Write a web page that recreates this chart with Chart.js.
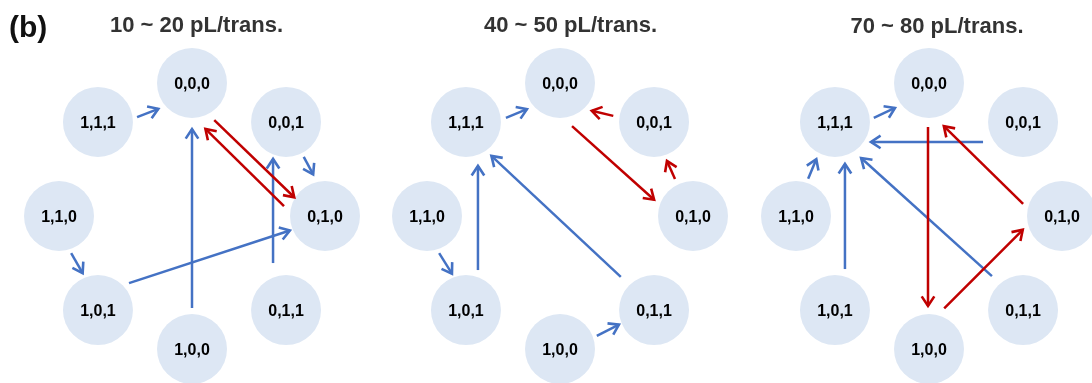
<!DOCTYPE html>
<html>
<head>
<meta charset="utf-8">
<title>State transitions</title>
<script src="https://cdn.jsdelivr.net/npm/chart.js@4.4.1/dist/chart.umd.min.js"></script>
<style>
  html, body { margin: 0; padding: 0; background: #ffffff; }
  #wrap { width: 1092px; height: 383px; }
</style>
</head>
<body>
<div id="wrap"><canvas id="c" width="1092" height="383"></canvas></div>
<script>
// ---- data ----
// states around the ring, clockwise from the top
const STATES = ['0,0,0', '0,0,1', '0,1,0', '0,1,1', '1,0,0', '1,0,1', '1,1,0', '1,1,1'];
const PANEL_TITLES = ['10 ~ 20 pL/trans.', '40 ~ 50 pL/trans.', '70 ~ 80 pL/trans.'];
const FIGURE_TAG = '(b)';

// transitions [from, to] for each dose range
const panel1Blue = [['1,1,1', '0,0,0'], ['0,0,1', '0,1,0'], ['1,1,0', '1,0,1'], ['1,0,1', '0,1,0'], ['1,0,0', '0,0,0'], ['0,1,1', '0,0,1']];
const panel1Red  = [['0,0,0', '0,1,0'], ['0,1,0', '0,0,0']];
const panel2Blue = [['1,1,1', '0,0,0'], ['1,1,0', '1,0,1'], ['1,0,1', '1,1,1'], ['0,1,1', '1,1,1'], ['1,0,0', '0,1,1']];
const panel2Red  = [['0,0,1', '0,0,0'], ['0,0,0', '0,1,0'], ['0,1,0', '0,0,1']];
const panel3Blue = [['1,1,1', '0,0,0'], ['0,0,1', '1,1,1'], ['1,1,0', '1,1,1'], ['1,0,1', '1,1,1'], ['0,1,1', '1,1,1']];
const panel3Red  = [['0,0,0', '1,0,0'], ['1,0,0', '0,1,0'], ['0,1,0', '0,0,0']];

const BLUE_EDGES = [panel1Blue, panel2Blue, panel3Blue];
const RED_EDGES = [panel1Red, panel2Red, panel3Red];

// ---- layout ----
const W = 1092, H = 383;
const PANEL_CX = [192, 560, 929];
const RING_CY = 216;
const RING_R = 133;
const NODE_R = 35;
const TITLE_DX = [4.5, 10.5, 8];
const TITLE_BASE = [32, 32, 33];

// per-arrow geometry: [shift at start, shift at end, gap at start, gap at end]
// shifts are perpendicular to the centre line, gaps measured from node centres
const ARROW_GEOM = {
  '0:1,1,1>0,0,0': [10.5, 11, 38, 41],
  '0:0,0,1>0,1,0': [-3, -5, 39, 43],
  '0:1,1,0>1,0,1': [3, 0, 39, 40],
  '0:1,0,1>0,1,0': [-13, 0, 39, 38],
  '0:1,0,0>0,0,0': [0, 0, 41, 46],
  '0:0,1,1>0,0,1': [-13, -13, 47, 37],
  '0:0,0,0>0,1,0': [10.5, 8.5, 42, 35],
  '0:0,1,0>0,0,0': [-22, -23, 36, 42],

  '1:1,1,1>0,0,0': [11.5, 11.5, 38.5, 40.5],
  '1:0,0,1>0,0,0': [-10, -13.5, 40, 40],
  '1:0,0,0>0,1,0': [22, 16, 39, 39],
  '1:0,1,0>0,0,1': [-2.5, -3, 41, 41],
  '1:1,1,0>1,0,1': [3, -1, 39, 39],
  '1:1,0,1>1,1,1': [12, 12, 40, 44],
  '1:0,1,1>1,1,1': [0, -6, 47, 42],
  '1:1,0,0>0,1,1': [2, 0, 39, 38],

  '2:1,1,1>0,0,0': [11, 10, 37.5, 41],
  '2:0,0,1>1,1,1': [-20, -20, 40, 36],
  '2:1,1,0>1,1,1': [-3, -3, 39, 41.5],
  '2:1,0,1>1,1,1': [10, 10, 41, 42],
  '2:0,1,1>1,1,1': [2, -7, 46, 44],
  '2:0,0,0>1,0,0': [1, 1, 44, 43],
  '2:1,0,0>0,1,0': [-18, -18, 39.5, 37.5],
  '2:0,1,0>0,0,0': [-19, -20, 36, 41]
};

const NODE_FILL = '#dde7f4';
const BLUE = '#4472c4';
const RED = '#c00000';
const FONT = '"Liberation Sans", Arial, Helvetica, sans-serif';

function nodePos(p, state) {
  const k = STATES.indexOf(state);
  const a = k * Math.PI / 4;
  return { x: PANEL_CX[p] + RING_R * Math.sin(a), y: RING_CY - RING_R * Math.cos(a) };
}

function arrowPoints(p, from, to) {
  const A = nodePos(p, from), B = nodePos(p, to);
  const dx = B.x - A.x, dy = B.y - A.y, L = Math.hypot(dx, dy);
  const ux = dx / L, uy = dy / L, nx = -uy, ny = ux;
  const g = ARROW_GEOM[p + ':' + from + '>' + to] || [0, 0, 40, 40];
  return [
    { x: A.x + ux * g[2] + nx * g[0], y: A.y + uy * g[2] + ny * g[0] },
    { x: B.x - ux * g[3] + nx * g[1], y: B.y - uy * g[3] + ny * g[1] }
  ];
}

const datasets = [];
PANEL_CX.forEach((cx, p) => {
  datasets.push({
    label: 'states ' + (p + 1),
    isNodes: true,
    data: STATES.map(s => Object.assign({ state: s }, nodePos(p, s))),
    pointRadius: NODE_R,
    pointHoverRadius: NODE_R,
    pointBackgroundColor: NODE_FILL,
    pointBorderWidth: 0,
    pointBorderColor: NODE_FILL,
    showLine: false,
    clip: false,
    order: 3
  });
  const addEdges = (edges, color, order) => edges.forEach(([f, t]) => {
    datasets.push({
      label: f + ' → ' + t,
      isArrow: true,
      data: arrowPoints(p, f, t),
      showLine: true,
      borderColor: color,
      borderWidth: 2.5,
      pointRadius: 0,
      pointHoverRadius: 0,
      fill: false,
      tension: 0,
      clip: false,
      order: order
    });
  });
  addEdges(BLUE_EDGES[p], BLUE, 2);
  addEdges(RED_EDGES[p], RED, 1);
});

// arrowheads, state labels and headings
const diagramText = {
  id: 'diagramText',
  afterDatasetsDraw(chart) {
    const ctx = chart.ctx;
    const xs = chart.scales.x, ys = chart.scales.y;
    ctx.save();
    chart.data.datasets.forEach((ds, i) => {
      const meta = chart.getDatasetMeta(i);
      if (ds.isArrow) {
        const a = meta.data[0], b = meta.data[1];
        const ang = Math.atan2(b.y - a.y, b.x - a.x);
        const len = 11.5, spread = 0.58;
        ctx.strokeStyle = ds.borderColor;
        ctx.lineWidth = 2.6;
        ctx.lineJoin = 'miter';
        ctx.lineCap = 'butt';
        ctx.beginPath();
        ctx.moveTo(b.x - len * Math.cos(ang - spread), b.y - len * Math.sin(ang - spread));
        ctx.lineTo(b.x, b.y);
        ctx.lineTo(b.x - len * Math.cos(ang + spread), b.y - len * Math.sin(ang + spread));
        ctx.stroke();
      }
    });
    ctx.fillStyle = '#000000';
    ctx.font = 'bold 16px ' + FONT;
    ctx.textAlign = 'center';
    ctx.textBaseline = 'alphabetic';
    chart.data.datasets.forEach((ds, i) => {
      if (!ds.isNodes) return;
      const meta = chart.getDatasetMeta(i);
      meta.data.forEach((el, j) => {
        ctx.fillText(ds.data[j].state, el.x, el.y + 6);
      });
    });
    ctx.fillStyle = '#333333';
    ctx.font = 'bold 22px ' + FONT;
    PANEL_TITLES.forEach((t, p) => {
      ctx.fillText(t, xs.getPixelForValue(PANEL_CX[p] + TITLE_DX[p]), ys.getPixelForValue(TITLE_BASE[p]));
    });
    ctx.fillStyle = '#111111';
    ctx.font = 'bold 30px ' + FONT;
    ctx.textAlign = 'left';
    ctx.fillText(FIGURE_TAG, xs.getPixelForValue(9), ys.getPixelForValue(37));
    ctx.restore();
  }
};

new Chart(document.getElementById('c'), {
  type: 'scatter',
  data: { datasets },
  options: {
    responsive: false,
    devicePixelRatio: 1,
    animation: false,
    events: [],
    layout: { padding: 0, autoPadding: false },
    clip: false,
    plugins: { legend: { display: false }, tooltip: { enabled: false }, title: { display: false } },
    scales: {
      x: { type: 'linear', min: 0, max: W, display: false },
      y: { type: 'linear', min: 0, max: H, reverse: true, display: false }
    }
  },
  plugins: [diagramText]
});
</script>
</body>
</html>
